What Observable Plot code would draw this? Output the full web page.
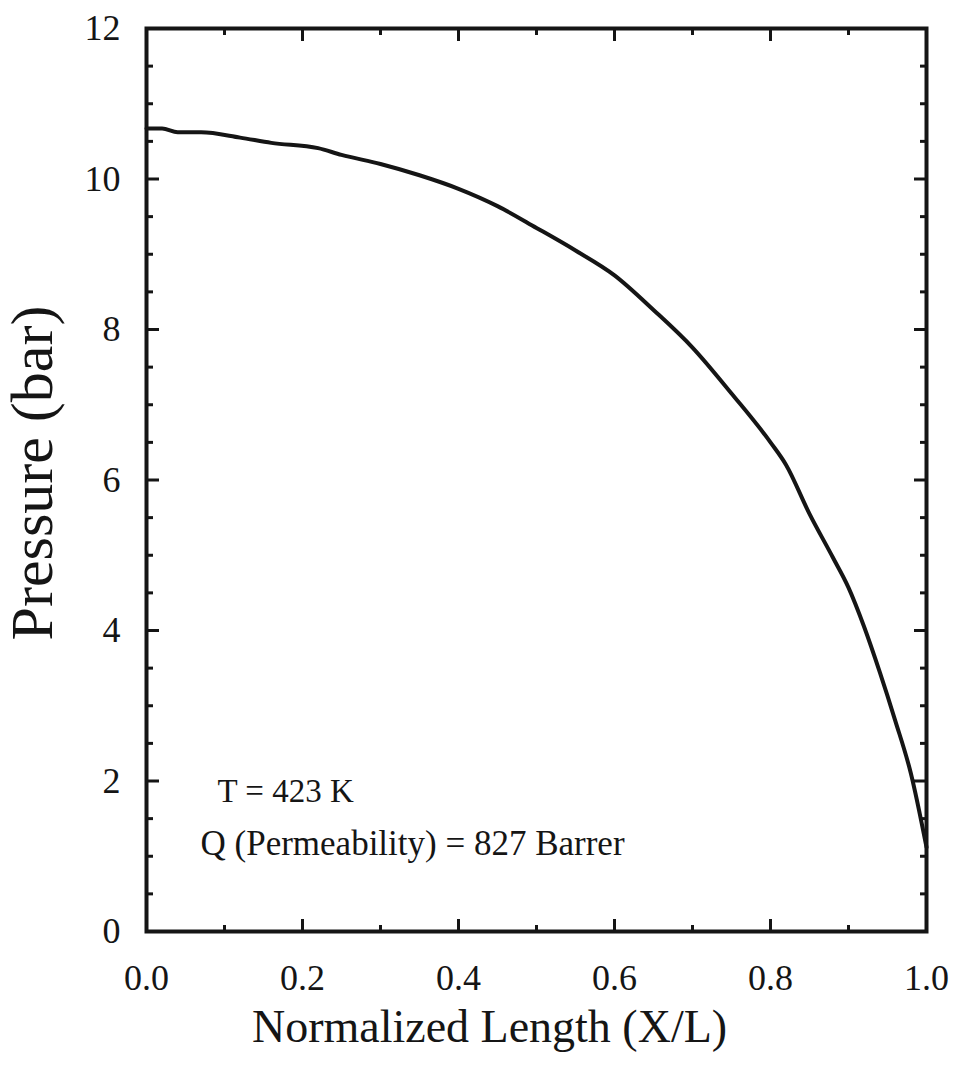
<!DOCTYPE html>
<html>
<head>
<meta charset="utf-8">
<script src="https://cdn.jsdelivr.net/npm/d3@7"></script>
<script src="https://cdn.jsdelivr.net/npm/@observablehq/plot@0.6"></script>
<style>
  html, body { margin: 0; padding: 0; background: #fff; }
  #chart svg { display: block; }
</style>
</head>
<body>
<div id="chart"></div>
<script>
// Normalized length (X/L)
const lengthX = [0, 0.02, 0.04, 0.07, 0.12, 0.16, 0.22, 0.25, 0.3, 0.35, 0.4, 0.45, 0.5, 0.55, 0.6, 0.65, 0.7, 0.75, 0.8, 0.82, 0.85, 0.88, 0.9, 0.92, 0.94, 0.96, 0.98, 1.0];
// Pressure (bar)
const pressure = [10.67, 10.67, 10.62, 10.62, 10.55, 10.48, 10.41, 10.32, 10.2, 10.05, 9.87, 9.64, 9.35, 9.05, 8.72, 8.26, 7.76, 7.15, 6.5, 6.2, 5.55, 4.97, 4.57, 4.05, 3.45, 2.8, 2.1, 1.12];

const xMajorTicks = [0, 0.2, 0.4, 0.6, 0.8, 1.0];
const xMinorTicks = [0.1, 0.3, 0.5, 0.7, 0.9];
const yMajorTicks = [0, 2, 4, 6, 8, 10, 12];
const yMinorTicks = [0.5, 1, 1.5, 2.5, 3, 3.5, 4.5, 5, 5.5, 6.5, 7, 7.5, 8.5, 9, 9.5, 10.5, 11, 11.5];

const xTitle = "Normalized Length (X/L)";
const yTitle = "Pressure (bar)";
const notes = ["T = 423 K", "Q (Permeability) = 827 Barrer"];

const curve = lengthX.map((x, i) => ({x, p: pressure[i]}));

const FONT = "'Liberation Serif', 'Times New Roman', serif";
const INK = "#151515";

const chart = Plot.plot({
  width: 956,
  height: 1072,
  marginLeft: 146,
  marginRight: 30,
  marginTop: 28,
  marginBottom: 141,
  style: {fontFamily: FONT, color: INK, background: "#fff"},
  x: {domain: [0, 1], label: null},
  y: {domain: [0, 12], label: null},
  marks: [
    // tick labels
    Plot.axisX({anchor: "bottom", ticks: xMajorTicks, tickSize: 0, tickPadding: 33, tickFormat: d3.format(".1f"), fontSize: 36, fill: INK, label: null}),
    Plot.axisY({anchor: "left", ticks: yMajorTicks, tickSize: 0, tickPadding: 26, tickFormat: d3.format("d"), fontSize: 36, fill: INK, label: null}),
    // inward ticks
    Plot.axisX({anchor: "bottom", ticks: xMajorTicks, tickSize: -12, strokeWidth: 3, stroke: INK, tickFormat: () => "", label: null}),
    Plot.axisX({anchor: "bottom", ticks: xMinorTicks, tickSize: -6, strokeWidth: 3, stroke: INK, tickFormat: () => "", label: null}),
    Plot.axisX({anchor: "top", ticks: xMajorTicks, tickSize: -12, strokeWidth: 3, stroke: INK, tickFormat: () => "", label: null}),
    Plot.axisX({anchor: "top", ticks: xMinorTicks, tickSize: -6, strokeWidth: 3, stroke: INK, tickFormat: () => "", label: null}),
    Plot.axisY({anchor: "left", ticks: yMajorTicks, tickSize: -13, strokeWidth: 3, stroke: INK, tickFormat: () => "", label: null}),
    Plot.axisY({anchor: "left", ticks: yMinorTicks, tickSize: -7, strokeWidth: 3, stroke: INK, tickFormat: () => "", label: null}),
    Plot.axisY({anchor: "right", ticks: yMajorTicks, tickSize: -13, strokeWidth: 3, stroke: INK, tickFormat: () => "", label: null}),
    Plot.axisY({anchor: "right", ticks: yMinorTicks, tickSize: -7, strokeWidth: 3, stroke: INK, tickFormat: () => "", label: null}),
    // frame
    Plot.frame({stroke: INK, strokeWidth: 4}),
    // curve
    Plot.line(curve, {x: "x", y: "p", stroke: INK, strokeWidth: 4, curve: "monotone-x"}),
    // axis titles
    Plot.text([xTitle], {frameAnchor: "bottom", textAnchor: "middle", dx: -47, dy: 110, fontSize: 46, fill: INK}),
    Plot.text([yTitle], {frameAnchor: "left", textAnchor: "middle", rotate: -90, dx: -114, dy: -7, fontSize: 60, fill: INK}),
    // annotations
    Plot.text([notes[0]], {frameAnchor: "bottom-left", textAnchor: "start", dx: 71, dy: -130, fontSize: 33, fill: INK}),
    Plot.text([notes[1]], {frameAnchor: "bottom-left", textAnchor: "start", dx: 54, dy: -77, fontSize: 35, fill: INK})
  ]
});
document.getElementById("chart").appendChild(chart);
</script>
</body>
</html>
